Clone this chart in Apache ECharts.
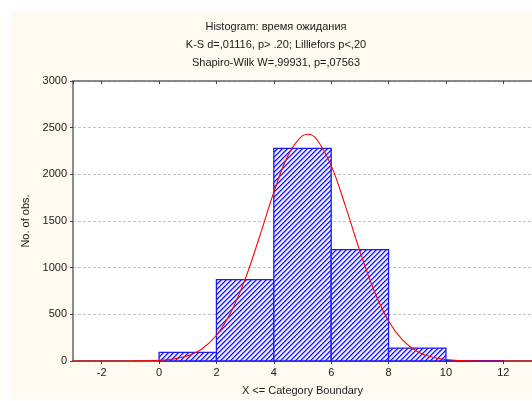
<!DOCTYPE html>
<html>
<head>
<meta charset="utf-8">
<script src="https://cdn.jsdelivr.net/npm/echarts@6/dist/echarts.min.js"></script>
<style>html,body{margin:0;padding:0;background:#fff;}#c{width:532px;height:401px;}</style>
</head>
<body>
<div id="c"></div>
<script>
// ---- data ----
const binStart = [-2, 0, 2, 4, 6, 8, 10];
const binEnd   = [0, 2, 4, 6, 8, 10, 12];
const counts   = [0, 93, 871, 2279, 1193, 139, 3];
const curveX = [-3, -2.5, -2, -1.5, -1, -0.5, 0, 0.5, 1, 1.5, 2, 2.5, 3, 3.5, 4, 4.5, 5, 5.2, 5.5, 6, 6.5, 7, 7.5, 8, 8.5, 9, 9.5, 10, 10.5, 11, 11.5, 12, 12.5, 13];
const curveY = [0, 0, 0, 0.1, 0.6, 2.3, 7.5, 21.7, 56, 132, 276, 520, 877, 1329, 1807, 2205, 2415, 2430, 2373, 2093, 1657, 1177, 750, 429, 220, 102, 42, 16, 5, 1.6, 0.4, 0.1, 0, 0];
const titleLines = ['Histogram: время ожидания', 'K-S d=,01116, p> .20; Lilliefors p<,20', 'Shapiro-Wilk W=,99931, p=,07563'];
const xName = 'X <= Category Boundary';
const yName = 'No. of obs.';

// hatch pattern
const pc = document.createElement('canvas');
pc.width = 5; pc.height = 5;
const pctx = pc.getContext('2d');
const img = pctx.createImageData(5, 5);
const shades = [[20,20,255],[120,120,255],[220,220,255],[250,250,255],[190,190,255]];
for (let j = 0; j < 5; j++) for (let i = 0; i < 5; i++) {
  const s = shades[(i + j) % 5];
  const k = (j * 5 + i) * 4;
  img.data[k] = s[0]; img.data[k+1] = s[1]; img.data[k+2] = s[2]; img.data[k+3] = 255;
}
pctx.putImageData(img, 0, 0);
const hatch = { image: pc, repeat: 'repeat' };

const histData = [];
for (let i = 0; i < counts.length; i++) if (counts[i] > 0) histData.push([binStart[i], binEnd[i], counts[i]]);
const curveData = curveX.map((x, i) => [x, curveY[i]]);

const chart = echarts.init(document.getElementById('c'), null, { renderer: 'canvas' });
const font = '"Liberation Sans", Arial, sans-serif';
const axisCol = '#404040';
chart.setOption({
  backgroundColor: '#ffffff',
  animation: false,
  graphic: [
    { type: 'rect', z: -10, silent: true, shape: { x: 11, y: 11, width: 521, height: 389 }, style: { fill: '#fffaf0' } }
  ].concat(titleLines.map((t, i) => ({
    type: 'text', z: 10, silent: true,
    style: { text: t, x: 276, y: 27 + i * 18, textAlign: 'center', textVerticalAlign: 'middle', font: '11px ' + font, fill: '#1a1a1a' }
  }))),
  grid: { left: 73, top: 81, width: 462, height: 281, show: true, backgroundColor: '#ffffff', borderWidth: 0, containLabel: false },
  xAxis: [
    {
      type: 'value', min: -3, max: 13, splitNumber: 8,
      name: xName, nameLocation: 'middle', nameGap: 24,
      nameTextStyle: { fontFamily: font, fontSize: 11, color: '#1a1a1a' },
      axisLine: { show: true, onZero: false, lineStyle: { color: axisCol, width: 1.5 } },
      axisTick: { show: true, inside: false, length: 3, lineStyle: { color: axisCol } },
      axisLabel: { showMinLabel: false, showMaxLabel: false, margin: 6, fontFamily: font, fontSize: 11, color: '#1a1a1a' },
      splitLine: { show: false }
    },
    {
      type: 'value', position: 'top', min: -3, max: 13, splitNumber: 8,
      axisLine: { show: true, onZero: false, lineStyle: { color: '#666666', width: 1.5 } },
      axisTick: { show: true, inside: true, length: 3, lineStyle: { color: axisCol } },
      axisLabel: { show: false },
      splitLine: { show: false }
    }
  ],
  yAxis: {
    type: 'value', min: 0, max: 3000, interval: 500,
    name: yName, nameLocation: 'middle', nameGap: 39,
    nameTextStyle: { fontFamily: font, fontSize: 11, color: '#1a1a1a' },
    axisLine: { show: true, onZero: false, lineStyle: { color: '#666666', width: 1.5 } },
    axisTick: { show: true, inside: false, length: 3, lineStyle: { color: axisCol } },
    axisLabel: { margin: 6, fontFamily: font, fontSize: 11, color: '#1a1a1a', formatter: function (v) { return String(v); } },
    splitLine: { show: true, lineStyle: { color: '#c4c4c4', type: [3, 2], width: 1 } }
  },
  series: [
    {
      type: 'custom', xAxisIndex: 0, yAxisIndex: 0, z: 2,
      data: histData,
      encode: { x: [0, 1], y: 2 },
      renderItem: function (params, api) {
        const p0 = api.coord([api.value(0), 0]);
        const p1 = api.coord([api.value(1), api.value(2)]);
        return {
          type: 'rect',
          shape: { x: p0[0], y: p1[1], width: p1[0] - p0[0], height: p0[1] - p1[1] },
          style: { fill: hatch, stroke: '#1a1aff', lineWidth: 1.3 }
        };
      }
    },
    {
      type: 'line', xAxisIndex: 0, yAxisIndex: 0, z: 5,
      data: curveData, smooth: 0.4, showSymbol: false,
      lineStyle: { color: '#ff0000', width: 1.1 }
    }
  ]
});
</script>
</body>
</html>
